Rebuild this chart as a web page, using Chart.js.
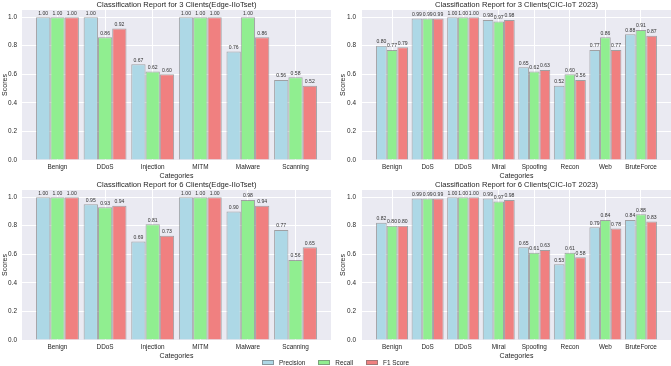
<!DOCTYPE html>
<html><head><meta charset="utf-8">
<script src="https://cdn.jsdelivr.net/npm/chart.js@4.4.0/dist/chart.umd.min.js"></script>
<style>
html,body{margin:0;padding:0;background:#fff;}
#wrap{position:relative;width:671px;height:366px;overflow:hidden;background:#fff;}
canvas{position:absolute;}
#legend{position:absolute;top:358px;left:262px;height:9px;display:flex;align-items:center;font-family:"Liberation Sans",Arial,sans-serif;font-size:6.4px;color:#262626;white-space:nowrap;}
.sw{display:inline-block;width:12px;height:4.5px;box-sizing:border-box;border:0.6px solid rgba(110,110,110,0.6);margin-right:5px;}
.item{display:flex;align-items:center;margin-right:13px;}
</style></head><body>
<div id="wrap">
<canvas id="c1" width="335" height="180" style="left:0;top:0"></canvas>
<canvas id="c2" width="336" height="180" style="left:335px;top:0"></canvas>
<canvas id="c3" width="335" height="180" style="left:0;top:180px"></canvas>
<canvas id="c4" width="336" height="180" style="left:335px;top:180px"></canvas>
<div id="legend"></div>
</div>
<script>
// ---- data ----
const seriesNames = ['Precision', 'Recall', 'F1 Score'];
const seriesColors = ['#ADD8E6', '#90EE90', '#F08080'];
const yTicks = [0, 0.2, 0.4, 0.6, 0.8, 1.0];

const edgeCats = ['Benign', 'DDoS', 'Injection', 'MITM', 'Malware', 'Scanning'];
const cicCats = ['Benign', 'DoS', 'DDoS', 'Mirai', 'Spoofing', 'Recon', 'Web', 'BruteForce'];

const edge3Precision = [1.00, 1.00, 0.67, 1.00, 0.76, 0.56];
const edge3Recall    = [1.00, 0.86, 0.62, 1.00, 1.00, 0.58];
const edge3F1        = [1.00, 0.92, 0.60, 1.00, 0.86, 0.52];

const cic3Precision = [0.80, 0.99, 1.00, 0.98, 0.65, 0.52, 0.77, 0.88];
const cic3Recall    = [0.77, 0.99, 1.00, 0.97, 0.62, 0.60, 0.86, 0.91];
const cic3F1        = [0.79, 0.99, 1.00, 0.98, 0.63, 0.56, 0.77, 0.87];

const edge6Precision = [1.00, 0.95, 0.69, 1.00, 0.90, 0.77];
const edge6Recall    = [1.00, 0.93, 0.81, 1.00, 0.98, 0.56];
const edge6F1        = [1.00, 0.94, 0.73, 1.00, 0.94, 0.65];

const cic6Precision = [0.82, 0.99, 1.00, 0.99, 0.65, 0.53, 0.79, 0.84];
const cic6Recall    = [0.80, 0.99, 1.00, 0.97, 0.61, 0.61, 0.84, 0.88];
const cic6F1        = [0.80, 0.99, 1.00, 0.98, 0.63, 0.58, 0.78, 0.83];

// ---- rendering ----
Chart.defaults.font.family = '"Liberation Sans", Arial, sans-serif';
Chart.defaults.color = '#262626';

const bgPlugin = {
  id: 'bg',
  beforeDraw(chart) {
    const {ctx, chartArea: a} = chart;
    ctx.save();
    ctx.fillStyle = '#EAEAF2';
    ctx.fillRect(a.left, a.top, a.right - a.left, a.bottom - a.top);
    ctx.restore();
  }
};
const valPlugin = {
  id: 'vals',
  afterDatasetsDraw(chart) {
    const ctx = chart.ctx;
    ctx.save();
    ctx.font = '5.1px "Liberation Sans", Arial, sans-serif';
    ctx.fillStyle = '#333';
    ctx.textAlign = 'center';
    ctx.textBaseline = 'bottom';
    chart.data.datasets.forEach((ds, di) => {
      chart.getDatasetMeta(di).data.forEach((el, i) => {
        ctx.fillText(ds.data[i].y.toFixed(2), el.x, el.y - 1.5);
      });
    });
    ctx.restore();
  }
};

function make(id, title, cats, series, yw, padRight, yTickPad, yTitlePad) {
  const n = cats.length;
  const m = 0.05 * (n - 1 + 0.9);
  new Chart(document.getElementById(id), {
    type: 'bar',
    data: {
      datasets: series.map((vals, si) => ({
        label: seriesNames[si],
        data: vals.map((v, i) => ({x: i, y: v})),
        backgroundColor: seriesColors[si],
        borderColor: 'rgba(110,110,110,0.6)',
        borderWidth: 1
      }))
    },
    options: {
      responsive: false,
      animation: false,
      devicePixelRatio: 1,
      categoryPercentage: 0.9,
      barPercentage: 1,
      layout: {padding: {left: 0, right: padRight, top: 0, bottom: 0}},
      plugins: {
        legend: {display: false},
        tooltip: {enabled: false},
        title: {display: true, text: title, fullSize: false, color: '#262626',
                font: {size: 7.6, weight: 'normal'}, padding: {top: 0.5, bottom: 0.38}}
      },
      scales: {
        x: {
          type: 'linear', min: -0.45 - m, max: n - 1 + 0.45 + m, offset: false,
          grid: {color: '#ffffff', lineWidth: 1, drawTicks: false, offset: false},
          border: {display: false},
          afterBuildTicks: s => { s.ticks = cats.map((c, i) => ({value: i})); },
          afterFit: s => { s.height = 20; s.paddingLeft = 0; s.paddingRight = 0; },
          ticks: {autoSkip: false, maxRotation: 0, minRotation: 0, padding: 3, color: '#262626',
                  font: {size: 6.4}, callback: v => cats[v]},
          title: {display: true, text: 'Categories', color: '#262626', font: {size: 7},
                  padding: {top: 0, bottom: 0}}
        },
        y: {
          min: 0, max: 1.05,
          grid: {color: '#ffffff', lineWidth: 1, drawTicks: false},
          border: {display: false},
          afterBuildTicks: s => { s.ticks = yTicks.map(v => ({value: v})); },
          afterFit: s => { s.width = yw; },
          ticks: {padding: yTickPad, color: '#262626', font: {size: 6.4}, callback: v => Number(v).toFixed(1)},
          title: {display: true, text: 'Scores', color: '#262626', font: {size: 7},
                  padding: {top: yTitlePad, bottom: 0}}
        }
      }
    },
    plugins: [bgPlugin, valPlugin]
  });
}

make('c1', 'Classification Report for 3 Clients(Edge-IIoTset)', edgeCats,
     [edge3Precision, edge3Recall, edge3F1], 22, 4, 5, 1);
make('c2', 'Classification Report for 3 Clients(CIC-IoT 2023)', cicCats,
     [cic3Precision, cic3Recall, cic3F1], 27, 0, 6, 4);
make('c3', 'Classification Report for 6 Clients(Edge-IIoTset)', edgeCats,
     [edge6Precision, edge6Recall, edge6F1], 22, 4, 5, 1);
make('c4', 'Classification Report for 6 Clients(CIC-IoT 2023)', cicCats,
     [cic6Precision, cic6Recall, cic6F1], 27, 0, 6, 4);

const lg = document.getElementById('legend');
seriesNames.forEach((name, i) => {
  const item = document.createElement('div');
  item.className = 'item';
  const sw = document.createElement('span');
  sw.className = 'sw';
  sw.style.background = seriesColors[i];
  const t = document.createElement('span');
  t.textContent = name;
  item.appendChild(sw);
  item.appendChild(t);
  lg.appendChild(item);
});
</script>
</body></html>
